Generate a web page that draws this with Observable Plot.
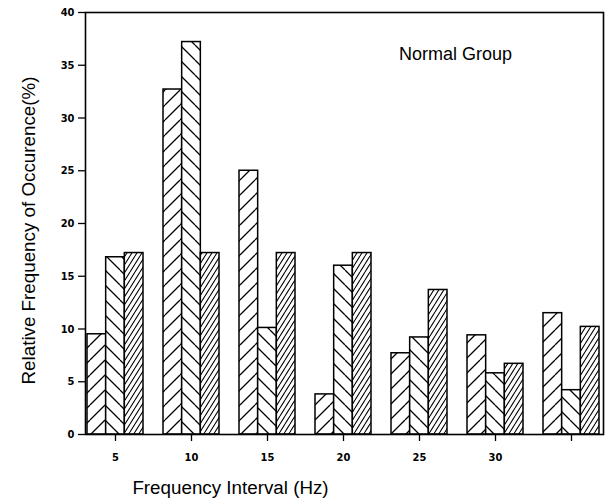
<!DOCTYPE html>
<html>
<head>
<meta charset="utf-8">
<script src="https://cdn.jsdelivr.net/npm/d3@7"></script>
<script src="https://cdn.jsdelivr.net/npm/@observablehq/plot@0.6"></script>
<style>
  html, body { margin: 0; padding: 0; background: #fff; }
  #chart svg { display: block; }
</style>
</head>
<body>
<svg width="0" height="0" style="position:absolute">
  <defs>
    <pattern id="hatchA" patternUnits="userSpaceOnUse" width="15" height="15">
      <rect width="15" height="15" fill="#fff"/>
      <path d="M-15,15 L0,0 M0,15 L15,0 M15,15 L30,0" stroke="#000" stroke-width="1.3"/>
    </pattern>
    <pattern id="hatchB" patternUnits="userSpaceOnUse" width="15" height="15">
      <rect width="15" height="15" fill="#fff"/>
      <path d="M-15,0 L0,15 M0,0 L15,15 M15,0 L30,15" stroke="#000" stroke-width="1.3"/>
    </pattern>
    <pattern id="hatchC" patternUnits="userSpaceOnUse" width="5" height="8">
      <rect width="5" height="8" fill="#fff"/>
      <path d="M-5,8 L0,0 M0,8 L5,0 M5,8 L10,0" stroke="#000" stroke-width="1.1"/>
    </pattern>
  </defs>
</svg>
<div id="chart"></div>
<script>
// Frequency interval groups (Hz) and tick labels
const groups = ["5", "10", "15", "20", "25", "30", "35"];
const tickLabels = ["5", "10", "15", "20", "25", "30", ""];
const yTicks = [0, 5, 10, 15, 20, 25, 30, 35, 40];

// Three series (hatch patterns), relative frequency of occurrence (%)
const seriesA = [9.5, 32.7, 25.0, 3.8, 7.7, 9.4, 11.5];   // sparse "/"
const seriesB = [16.8, 37.2, 10.1, 16.0, 9.2, 5.8, 4.2];  // sparse "\"
const seriesC = [17.2, 17.2, 17.2, 17.2, 13.7, 6.7, 10.2]; // dense "/"

const seriesList = [seriesA, seriesB, seriesC];
const fills = ["url(#hatchA)", "url(#hatchB)", "url(#hatchC)"];

const rows = [];
seriesList.forEach((s, si) => groups.forEach((g, gi) => rows.push({group: g, series: si, value: s[gi]})));

const tickFont = "'DejaVu Sans Condensed', 'Liberation Sans Narrow', 'DejaVu Sans', sans-serif";
const labelFont = "'Liberation Sans', Arial, sans-serif";

function build(bw) {
  const third = bw / 3;
  const bars = seriesList.map((s, si) =>
    Plot.barY(rows.filter(r => r.series === si), {
      x: "group",
      y: "value",
      fill: fills[si],
      stroke: "#000",
      strokeWidth: 1.5,
      insetLeft: si * third,
      insetRight: (2 - si) * third
    })
  );
  return Plot.plot({
    width: 607,
    height: 499,
    marginLeft: 85,
    marginRight: 4,
    marginTop: 12,
    marginBottom: 65,
    style: {background: "#fff", color: "#000", fontFamily: tickFont},
    x: {domain: groups, paddingInner: 0.267, paddingOuter: 0, insetRight: 3, label: null},
    y: {domain: [0, 40], label: null},
    marks: [
      ...bars,
      Plot.frame({stroke: "#000", strokeWidth: 1.6}),
      Plot.axisY({
        ticks: yTicks, tickSize: 7, tickPadding: 4, label: null,
        fontSize: 11, fontWeight: "bold", strokeWidth: 1.3
      }),
      Plot.axisX({
        tickSize: 7, tickPadding: 12, label: null,
        tickFormat: (d) => tickLabels[groups.indexOf(d)],
        fontSize: 11, fontWeight: "bold", strokeWidth: 1.3
      }),
      Plot.text(["Relative Frequency of Occurence(%)"], {
        text: d => d, frameAnchor: "left", textAnchor: "middle", lineAnchor: "middle",
        rotate: -90, dx: -57, dy: 7,
        fontSize: 18.8, fontFamily: labelFont
      }),
      Plot.text(["Frequency Interval (Hz)"], {
        text: d => d, frameAnchor: "bottom", textAnchor: "middle", lineAnchor: "middle",
        dx: -114, dy: 53,
        fontSize: 18.8, fontFamily: labelFont
      }),
      Plot.text(["Normal Group"], {
        text: d => d, frameAnchor: "top", textAnchor: "middle", lineAnchor: "middle",
        dx: 111, dy: 42,
        fontSize: 18, fontFamily: labelFont
      })
    ]
  });
}

const probe = build(0);
const bw = probe.scale("x").bandwidth;
document.getElementById("chart").append(build(bw));
</script>
</body>
</html>
